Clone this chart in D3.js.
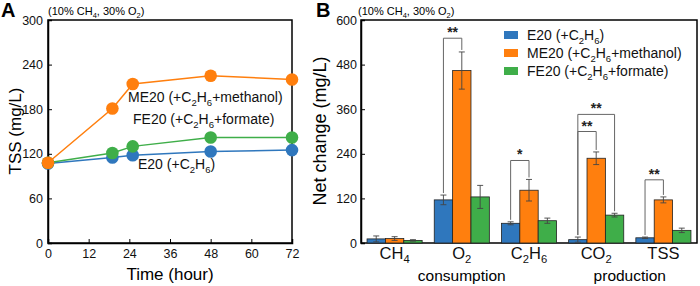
<!DOCTYPE html>
<html>
<head>
<meta charset="utf-8">
<script src="https://cdn.jsdelivr.net/npm/d3@7"></script>
<style>
body { margin: 0; background: #fff; }
svg { font-family: Arial, "Liberation Sans", sans-serif; }
</style>
</head>
<body>
<div id="chart"></div>
<script>
// panel A data (TSS over time)
var hours = [0, 19, 25, 48, 72];
var tssE20 = [107, 115, 118, 123, 125];
var tssME20 = [108, 181, 214, 225, 220];
var tssFE20 = [108, 121, 130, 142, 142];
var xTicksA = [0, 12, 24, 36, 48, 60, 72];
var yTicksA = [0, 60, 120, 180, 240, 300];

// panel B data (net change)
var categories = ["CH_4", "O_2", "C_2H_6", "CO_2", "TSS"];
var seriesNames = ["E20 (+C_2H_6)", "ME20 (+C_2H_6+methanol)", "FE20 (+C_2H_6+formate)"];
var netE20 = [11, 116, 53, 9, 14];
var netME20 = [12, 464, 142, 228, 116];
var netFE20 = [7, 124, 60, 75, 34];
var errE20 = [8, 13, 4, 7, 2];
var errME20 = [5, 50, 29, 17, 8];
var errFE20 = [2, 31, 7, 5, 6];
var yTicksB = [0, 120, 240, 360, 480, 600];
// significance brackets: category, bar a, bar b, top value, label
var sigCat = ["O_2", "C_2H_6", "CO_2", "CO_2", "TSS"];
var sigFrom = [0, 0, 0, 0, 0];
var sigTo = [1, 1, 2, 1, 1];
var sigTop = [551, 222, 346, 300, 170];
var sigLabel = ["**", "*", "**", "**", "**"];

var colors = ["#2f77bd", "#ff7f0e", "#3fae49"];

var w = 700, h = 286;
var svg = d3.select("#chart").append("svg")
    .attr("width", w)
    .attr("height", h);

// write text with "_x" subscripts
function richText(sel, str, size) {
    var parts = str.split(/(_.)/);
    var shifted = false;
    parts.forEach(function(p) {
        if (p === "") return;
        if (p[0] === "_") {
            sel.append("tspan")
                .attr("dy", shifted ? 0 : size * 0.25)
                .attr("font-size", size * 0.68)
                .text(p[1]);
            shifted = true;
        } else {
            sel.append("tspan")
                .attr("dy", shifted ? -size * 0.25 : 0)
                .text(p);
            shifted = false;
        }
    });
}

///////// PANEL A /////////
var ax = d3.scaleLinear().domain([0, 72]).range([48, 292]);
var ay = d3.scaleLinear().domain([0, 300]).range([243, 20]);

var gA = svg.append("g");

gA.append("g")
    .attr("transform", "translate(0," + ay(0) + ")")
    .call(d3.axisBottom(ax).tickValues(xTicksA).tickSize(-4).tickPadding(6))
    .call(function(g) {
        g.select(".domain").attr("stroke-width", 1.5);
        g.selectAll("text").attr("font-size", 12.5).attr("fill", "#111");
    });

gA.append("g")
    .attr("transform", "translate(" + ax(0) + ",0)")
    .call(d3.axisLeft(ay).tickValues(yTicksA).tickSize(-4).tickPadding(5))
    .call(function(g) {
        g.select(".domain").attr("stroke-width", 1.5);
        g.selectAll("text").attr("font-size", 12.5).attr("fill", "#111");
    });

gA.append("rect")
    .attr("x", ax(0)).attr("y", ay(300))
    .attr("width", ax(72) - ax(0)).attr("height", ay(0) - ay(300))
    .attr("fill", "none").attr("stroke", "#000").attr("stroke-width", 1.5);

var lineA = d3.line()
    .x(function(d, i) { return ax(hours[i]); })
    .y(function(d) { return ay(d); });

[tssE20, tssFE20, tssME20].forEach(function(vals, k) {
    var c = [colors[0], colors[2], colors[1]][k];
    gA.append("path")
        .datum(vals)
        .attr("d", lineA)
        .attr("fill", "none")
        .attr("stroke", c)
        .attr("stroke-width", 1.5);
    gA.selectAll(null)
        .data(vals)
        .enter()
        .append("circle")
        .attr("cx", function(d, i) { return ax(hours[i]); })
        .attr("cy", function(d) { return ay(d); })
        .attr("r", 6.3)
        .attr("fill", c);
});

var lineLabels = [["ME20 (+C_2H_6+methanol)", 128, 102], ["FE20 (+C_2H_6+formate)", 133, 124], ["E20 (+C_2H_6)", 138, 169]];
lineLabels.forEach(function(l) {
    var t = gA.append("text").attr("x", l[1]).attr("y", l[2]).attr("font-size", 14).attr("fill", "#111");
    richText(t, l[0], 14);
});

gA.append("text")
    .attr("x", 170).attr("y", 280)
    .attr("text-anchor", "middle")
    .attr("font-size", 17)
    .text("Time (hour)");

gA.append("text")
    .attr("transform", "translate(21,131) rotate(-90)")
    .attr("text-anchor", "middle")
    .attr("font-size", 17)
    .text("TSS (mg/L)");

var hA = gA.append("text").attr("x", 48).attr("y", 15).attr("font-size", 11);
richText(hA, "(10% CH_4, 30% O_2)", 11);

svg.append("text").attr("x", 1).attr("y", 17)
    .attr("font-size", 20).attr("font-weight", "bold").text("A");

///////// PANEL B /////////
var bx0 = d3.scaleBand().domain(categories).range([361, 697]).paddingInner(0.18).paddingOuter(0.09);
var bx1 = d3.scaleBand().domain([0, 1, 2]).range([0, bx0.bandwidth()]);
var by = d3.scaleLinear().domain([0, 600]).range([243, 20]);

var gB = svg.append("g");

gB.append("g")
    .attr("transform", "translate(" + 361 + ",0)")
    .call(d3.axisLeft(by).tickValues(yTicksB).tickSize(-4).tickPadding(4))
    .call(function(g) {
        g.select(".domain").attr("stroke-width", 1.5);
        g.selectAll("text").attr("font-size", 12.5).attr("fill", "#111");
    });

gB.append("rect")
    .attr("x", 361).attr("y", by(600))
    .attr("width", 697 - 361).attr("height", by(0) - by(600))
    .attr("fill", "none").attr("stroke", "#000").attr("stroke-width", 1.5);

var means = [netE20, netME20, netFE20];
var errs = [errE20, errME20, errFE20];

function barX(cat, s) { return bx0(cat) + bx1(s); }
function barMid(cat, s) { return barX(cat, s) + bx1.bandwidth() / 2; }

means.forEach(function(vals, s) {
    gB.selectAll(null)
        .data(vals)
        .enter()
        .append("rect")
        .attr("x", function(d, i) { return barX(categories[i], s); })
        .attr("y", function(d) { return by(d); })
        .attr("width", bx1.bandwidth())
        .attr("height", function(d) { return by(0) - by(d); })
        .attr("fill", colors[s])
        .attr("stroke", "#222")
        .attr("stroke-width", 0.8);
});

// error bars
means.forEach(function(vals, s) {
    var eb = gB.selectAll(null)
        .data(vals)
        .enter()
        .append("g")
        .attr("stroke", "#444")
        .attr("stroke-width", 0.9);
    eb.append("line")
        .attr("x1", function(d, i) { return barMid(categories[i], s); })
        .attr("x2", function(d, i) { return barMid(categories[i], s); })
        .attr("y1", function(d, i) { return by(d - errs[s][i]); })
        .attr("y2", function(d, i) { return by(d + errs[s][i]); });
    [-1, 1].forEach(function(sign) {
        eb.append("line")
            .attr("x1", function(d, i) { return barMid(categories[i], s) - 3; })
            .attr("x2", function(d, i) { return barMid(categories[i], s) + 3; })
            .attr("y1", function(d, i) { return by(d + sign * errs[s][i]); })
            .attr("y2", function(d, i) { return by(d + sign * errs[s][i]); });
    });
});

// significance brackets
sigCat.forEach(function(cat, k) {
    var ci = categories.indexOf(cat);
    var a = sigFrom[k], b = sigTo[k];
    var xa = barMid(cat, a), xb = barMid(cat, b);
    var ya = by(means[a][ci] + errs[a][ci]) - 2;
    var yb = by(means[b][ci] + errs[b][ci]) - 2;
    var yt = by(sigTop[k]);
    gB.append("path")
        .attr("d", "M" + xa + "," + ya + "V" + yt + "H" + xb + "V" + yb)
        .attr("fill", "none")
        .attr("stroke", "#666")
        .attr("stroke-width", 1);
    gB.append("text")
        .attr("x", (xa + xb) / 2)
        .attr("y", yt - 1)
        .attr("text-anchor", "middle")
        .attr("font-size", 14)
        .attr("font-weight", "bold")
        .attr("fill", "#222")
        .text(sigLabel[k]);
});

// category labels
categories.forEach(function(cat) {
    var t = gB.append("text")
        .attr("x", bx0(cat) + bx0.bandwidth() / 2)
        .attr("y", 259)
        .attr("text-anchor", "middle")
        .attr("font-size", 16.5)
        .attr("fill", "#111");
    richText(t, cat, 16.5);
});

gB.append("text")
    .attr("x", bx0("O_2") + bx0.bandwidth() / 2).attr("y", 281)
    .attr("text-anchor", "middle").attr("font-size", 15.5).text("consumption");
gB.append("text")
    .attr("x", (bx0("CO_2") + bx0("TSS") + bx0.bandwidth()) / 2).attr("y", 281)
    .attr("text-anchor", "middle").attr("font-size", 15.5).text("production");

gB.append("text")
    .attr("transform", "translate(326,131) rotate(-90)")
    .attr("text-anchor", "middle")
    .attr("font-size", 18)
    .text("Net change (mg/L)");

var hB = gB.append("text").attr("x", 358).attr("y", 15).attr("font-size", 11);
richText(hB, "(10% CH_4, 30% O_2)", 11);

svg.append("text").attr("x", 316).attr("y", 17)
    .attr("font-size", 20).attr("font-weight", "bold").text("B");

// legend
var leg = gB.append("g");
seriesNames.forEach(function(name, s) {
    var yy = 35 + s * 18;
    leg.append("rect")
        .attr("x", 504).attr("y", yy - 4)
        .attr("width", 14).attr("height", 8)
        .attr("fill", colors[s]);
    var t = leg.append("text")
        .attr("x", 527).attr("y", yy + 5)
        .attr("font-size", 14)
        .attr("fill", "#111");
    richText(t, name, 14);
});
</script>
</body>
</html>
